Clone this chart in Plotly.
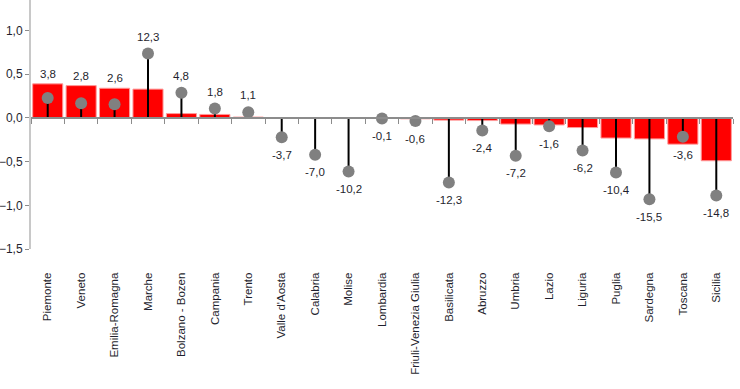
import plotly.graph_objects as go

regions = ["Piemonte", "Veneto", "Emilia-Romagna", "Marche", "Bolzano - Bozen", "Campania",
           "Trento", "Valle d'Aosta", "Calabria", "Molise", "Lombardia", "Friuli-Venezia Giulia",
           "Basilicata", "Abruzzo", "Umbria", "Lazio", "Liguria", "Puglia", "Sardegna",
           "Toscana", "Sicilia"]
bar_values = [0.39, 0.37, 0.34, 0.33, 0.05, 0.04, 0.01, 0.0, 0.0, 0.0, -0.005, -0.01,
              -0.025, -0.03, -0.07, -0.08, -0.11, -0.23, -0.24, -0.30, -0.49]
dot_values = [3.8, 2.8, 2.6, 12.3, 4.8, 1.8, 1.1, -3.7, -7.0, -10.2, -0.1, -0.6,
              -12.3, -2.4, -7.2, -1.6, -6.2, -10.4, -15.5, -3.6, -14.8]
y_ticks = [-1.5, -1.0, -0.5, 0.0, 0.5, 1.0]

Y_RANGE = [-1.5, 1.35]
SCALE = 25 / 1.5
Y2_RANGE = [Y_RANGE[0] * SCALE, Y_RANGE[1] * SCALE]
FONT = "Liberation Sans, Arial, sans-serif"
TXT = "#1f1f2e"

fig = go.Figure()
fig.add_trace(go.Bar(
    x=regions, y=bar_values, xaxis="x", yaxis="y",
    marker=dict(color="#ff0000", line=dict(color="#ff9a9a", width=1)),
    showlegend=False, hoverinfo="skip",
))
fig.add_trace(go.Scatter(
    x=regions, y=dot_values, xaxis="x", yaxis="y2", mode="markers",
    marker=dict(size=12, color="#808080"),
    error_y=dict(type="data", symmetric=False,
                 array=[max(-v, 0) for v in dot_values],
                 arrayminus=[max(v, 0) for v in dot_values],
                 color="#000000", thickness=2, width=0),
    showlegend=False, hoverinfo="skip",
))
# invisible trace to host the zero-line category axis
fig.add_trace(go.Scatter(
    x=regions, y=[0] * len(regions), xaxis="x2", yaxis="y", mode="markers",
    marker=dict(size=1, color="rgba(0,0,0,0)"), showlegend=False, hoverinfo="skip",
))

annotations = []
for r, b, d in zip(regions, bar_values, dot_values):
    dp = d / SCALE
    label = f"{d:.1f}".replace(".", ",")
    if d >= 0:
        y = max(b + 0.02, dp + 0.1)
        anchor = "bottom"
    else:
        y = min(b - 0.03, dp - 0.11)
        anchor = "top"
    annotations.append(dict(x=r, y=y, xref="x", yref="y", text=label, showarrow=False,
                            yanchor=anchor, xanchor="center",
                            font=dict(family=FONT, size=11.5, color=TXT)))

zero_pos = -Y_RANGE[0] / (Y_RANGE[1] - Y_RANGE[0])

fig.update_layout(
    width=740, height=389,
    margin=dict(l=31, r=7, t=0, b=140, autoexpand=False),
    paper_bgcolor="white", plot_bgcolor="white",
    separators=",.",
    barmode="overlay", bargap=0.1,
    font=dict(family=FONT, color=TXT),
    annotations=annotations,
    xaxis=dict(type="category", categoryorder="array", categoryarray=regions,
               range=[-0.5, len(regions) - 0.5], automargin=False,
               showline=False, showgrid=False, zeroline=False,
               ticks="outside", ticklen=18, tickcolor="rgba(0,0,0,0)",
               tickangle=-90, tickfont=dict(family=FONT, size=11.5, color=TXT)),
    xaxis2=dict(type="category", categoryorder="array", categoryarray=regions,
                range=[-0.5, len(regions) - 0.5], overlaying="x",
                anchor="free", position=zero_pos, automargin=False,
                showline=True, linecolor="#8c8c8c", linewidth=2,
                ticks="outside", tickson="boundaries", ticklen=5, tickcolor="#8c8c8c",
                tickwidth=1, showticklabels=False, showgrid=False, zeroline=False),
    yaxis=dict(range=Y_RANGE, tickvals=y_ticks, tickformat=".1f", automargin=False,
               showline=True, linecolor="#c8c8c8", linewidth=2,
               ticks="outside", ticklen=4, tickcolor="#8c8c8c",
               showgrid=False, zeroline=False,
               tickfont=dict(family=FONT, size=12, color=TXT)),
    yaxis2=dict(range=Y2_RANGE, overlaying="y", visible=False, showgrid=False,
                zeroline=False, automargin=False),
)

fig.write_html("out.html",
               config={"displayModeBar": False},
               post_script="document.body.style.margin='0px';"
                           "document.body.style.overflow='hidden';")
